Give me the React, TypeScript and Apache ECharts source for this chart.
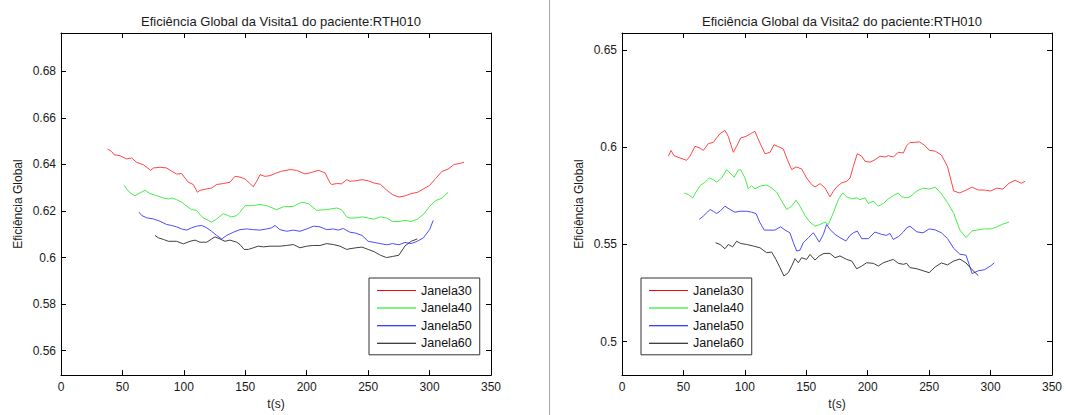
import React, { useEffect, useRef } from "react";
import * as echarts from "echarts";

const FONT = "'Liberation Sans', Arial, Helvetica, sans-serif";

const xTicks = [0, 50, 100, 150, 200, 250, 300, 350];
const leftYTicks = [0.56, 0.58, 0.6, 0.62, 0.64, 0.66, 0.68];
const rightYTicks = [0.5, 0.55, 0.6, 0.65];
const leftYRange = [0.5495, 0.6965];
const rightYRange = [0.4828, 0.6588];

const seriesNames = ["Janela30", "Janela40", "Janela50", "Janela60"];
const lineColors = ["#ff4646", "#46ee46", "#4c4cff", "#404040"];
const legendColors = ["#ff0000", "#00e600", "#0000ff", "#000000"];

const titles = [
  "Eficiência Global da Visita1 do paciente:RTH010",
  "Eficiência Global da Visita2 do paciente:RTH010",
];

// Visita1
const v1Janela30: [number, number][] = [
  [38.0, 0.6466], [41.2, 0.6456], [43.1, 0.6442], [48.0, 0.6438], [53.4, 0.6424], [57.5, 0.6428],
  [61.6, 0.6409], [67.0, 0.6399], [73.0, 0.6375], [75.2, 0.6385], [80.6, 0.6388], [86.0, 0.6385],
  [90.1, 0.6371], [94.1, 0.6359], [98.2, 0.6361], [100.9, 0.6342], [103.6, 0.6324], [107.7, 0.6314],
  [111.0, 0.6281], [113.1, 0.6289], [118.6, 0.6295], [122.6, 0.6299], [126.7, 0.6314], [132.1, 0.6318],
  [137.6, 0.6324], [141.6, 0.6349], [145.7, 0.6346], [149.8, 0.6338], [153.8, 0.6318], [156.5, 0.6304],
  [159.3, 0.6328], [162.0, 0.6356], [166.0, 0.6349], [170.1, 0.6352], [175.5, 0.6364], [179.6, 0.6371],
  [186.4, 0.6378], [191.8, 0.6375], [198.6, 0.6359], [204.0, 0.6366], [209.4, 0.6375], [214.9, 0.6364],
  [219.0, 0.6321], [220.3, 0.6314], [224.4, 0.6318], [228.5, 0.6317], [232.5, 0.6335], [235.2, 0.6328],
  [240, 0.633], [245, 0.6335], [250, 0.633], [255, 0.632], [260, 0.6315], [265, 0.629], [270, 0.627],
  [275, 0.626], [280, 0.6265], [285, 0.6275], [290, 0.628], [295, 0.6295], [300, 0.631], [305, 0.634],
  [310, 0.637], [315, 0.638], [320, 0.640], [325, 0.6405], [328, 0.641],
];
const v1Janela40: [number, number][] = [
  [51.3, 0.6311], [53.4, 0.6295], [56.2, 0.6278], [60.2, 0.6266], [64.3, 0.6278], [68.4, 0.6289],
  [72.4, 0.6275], [77.9, 0.6266], [83.3, 0.6256], [87.4, 0.6252], [90.1, 0.6256], [94.1, 0.6249],
  [98.2, 0.6238], [102.3, 0.6221], [106.3, 0.6206], [110.4, 0.6203], [113.1, 0.6185], [115.8, 0.617],
  [119.9, 0.616], [122.6, 0.6152], [126.7, 0.6166], [132.1, 0.6189], [136.2, 0.618], [138.9, 0.6175],
  [143.0, 0.618], [145.7, 0.6195], [149.8, 0.6223], [155.2, 0.6223], [162.0, 0.6228], [167.4, 0.6223],
  [175.5, 0.6206], [181.0, 0.6218], [189.1, 0.622], [195.9, 0.6238], [201.3, 0.6232], [208.1, 0.6203],
  [216.2, 0.6206], [224.4, 0.6213], [228.4, 0.6206], [232.5, 0.6175], [235.2, 0.617],
  [240, 0.617], [245, 0.6175], [250, 0.617], [255, 0.6165], [260, 0.6175], [265, 0.617], [270, 0.6155],
  [275, 0.6155], [280, 0.616], [285, 0.6155], [290, 0.6165], [295, 0.6185], [300, 0.622], [305, 0.6245],
  [310, 0.6255], [315, 0.628],
];
const v1Janela50: [number, number][] = [
  [63.5, 0.6195], [65.7, 0.6181], [69.7, 0.6171], [75.2, 0.6166], [80.6, 0.6156], [86.0, 0.6142],
  [90.1, 0.6138], [94.1, 0.6132], [98.2, 0.6123], [102.3, 0.6118], [106.3, 0.6128], [110.4, 0.6135],
  [114.5, 0.6138], [118.6, 0.6128], [122.6, 0.6113], [126.7, 0.6095], [130.8, 0.608], [134.8, 0.6095],
  [140.3, 0.6109], [145.7, 0.612], [151.1, 0.6123], [156.5, 0.612], [162.0, 0.6118], [167.4, 0.6123],
  [171.5, 0.6128], [174.2, 0.6138], [178.2, 0.612], [183.7, 0.6113], [189.1, 0.6118], [194.5, 0.6113],
  [200.0, 0.6123], [205.4, 0.6135], [210.8, 0.6132], [216.2, 0.612], [221.7, 0.6123], [225.7, 0.6118],
  [229.8, 0.6125], [235.2, 0.6109],
  [240, 0.6105], [245, 0.6095], [250, 0.607], [255, 0.6065], [260, 0.606], [265, 0.6055], [270, 0.606],
  [275, 0.6055], [280, 0.6065], [285, 0.606], [290, 0.607], [295, 0.6085], [300, 0.612], [303, 0.616],
];
const v1Janela60: [number, number][] = [
  [76.5, 0.6095], [79.2, 0.6085], [83.3, 0.6078], [87.4, 0.607], [94.1, 0.607], [99.6, 0.6059],
  [105.0, 0.607], [109.1, 0.6075], [113.1, 0.6066], [118.6, 0.6066], [122.6, 0.608], [125.3, 0.6089],
  [129.4, 0.608], [133.5, 0.607], [137.5, 0.6075], [143.0, 0.6066], [145.7, 0.6056], [149.0, 0.6035],
  [152.5, 0.6035], [156.5, 0.6042], [160.6, 0.6049], [164.7, 0.6046], [170.1, 0.6049], [178.2, 0.6049],
  [183.7, 0.6052], [189.1, 0.6056], [194.5, 0.6042], [200.0, 0.6049], [205.4, 0.6052], [210.8, 0.6052],
  [216.2, 0.606], [221.7, 0.6056], [227.1, 0.6049], [232.5, 0.6035], [235.2, 0.6038],
  [240, 0.6042], [245, 0.6045], [250, 0.6035], [255, 0.6025], [260, 0.601], [265, 0.6], [270, 0.6005],
  [275, 0.601], [280, 0.605], [285, 0.607], [290, 0.608],
];

// Visita2
const v2Janela30: [number, number][] = [
  [37.7, 0.5954], [39.9, 0.5984], [42.3, 0.5957], [47.2, 0.5945], [52.6, 0.5933], [55.3, 0.5954],
  [59.4, 0.6005], [63.5, 0.5996], [66.2, 0.5984], [70.3, 0.6019], [74.3, 0.6025], [77.0, 0.6048],
  [79.8, 0.607], [83.8, 0.6087], [86.5, 0.6056], [90.6, 0.5974], [93.3, 0.6005], [96.6, 0.6048],
  [100.9, 0.6056], [104.7, 0.607], [108.2, 0.6082], [112.3, 0.6022], [116.4, 0.5967], [120.5, 0.5974],
  [123.7, 0.6013], [128.1, 0.6001], [131.3, 0.5991], [134.6, 0.5936], [138.1, 0.5885], [141.6, 0.5899],
  [146.2, 0.5889], [150.3, 0.5842], [154.4, 0.5808], [157.1, 0.5796], [161.2, 0.5813], [165.2, 0.5791],
  [169.3, 0.5745], [172.0, 0.5774], [174.7, 0.5796], [178.8, 0.5817], [182.9, 0.5825], [185.6, 0.5842],
  [188.3, 0.5902], [191.5, 0.5967], [195.1, 0.5954], [197.8, 0.5928], [201.8, 0.5923], [205.9, 0.5936],
  [210.0, 0.5954], [214.1, 0.595], [216.8, 0.5957], [220.8, 0.595], [224.9, 0.5974], [229.0, 0.5971],
  [231.7, 0.6008], [234.4, 0.6025],
  [238, 0.6025], [242, 0.6028], [246, 0.6012], [250, 0.5985], [255, 0.598], [260, 0.596], [265, 0.59],
  [270, 0.5775], [275, 0.5765], [280, 0.578], [285, 0.5795], [290, 0.578], [295, 0.578], [300, 0.5775],
  [305, 0.579], [310, 0.5785], [315, 0.5815], [320, 0.583], [325, 0.5815], [328, 0.5825],
];
const v2Janela40: [number, number][] = [
  [50.7, 0.5765], [54.0, 0.5757], [57.5, 0.574], [60.2, 0.5769], [63.5, 0.5803], [67.6, 0.582],
  [71.1, 0.5842], [74.3, 0.5834], [77.0, 0.582], [81.1, 0.5842], [85.2, 0.5885], [87.9, 0.5868],
  [91.2, 0.5846], [94.7, 0.5882], [96.6, 0.5885], [100.1, 0.5842], [102.8, 0.5786], [105.5, 0.5803],
  [108.2, 0.5786], [112.3, 0.58], [117.7, 0.5806], [121.8, 0.5791], [125.9, 0.5769], [130.0, 0.5723],
  [134.0, 0.568], [138.1, 0.5697], [141.6, 0.5728], [144.9, 0.5697], [148.9, 0.5649], [153.0, 0.5615],
  [157.1, 0.5594], [161.2, 0.5603], [165.2, 0.5615], [168.0, 0.5603], [172.0, 0.5663], [176.1, 0.5731],
  [179.6, 0.5765], [182.9, 0.5745], [187.0, 0.5735], [191.0, 0.574], [193.7, 0.5731], [197.8, 0.574],
  [200.5, 0.5711], [204.6, 0.5723], [208.6, 0.5697], [212.7, 0.5711], [216.8, 0.5735], [220.8, 0.5752],
  [224.9, 0.5765], [227.6, 0.5745], [231.7, 0.574], [234.4, 0.5745],
  [240, 0.5775], [245, 0.579], [250, 0.5785], [255, 0.5795], [260, 0.576], [265, 0.5715], [270, 0.566],
  [275, 0.5575], [280, 0.5535], [285, 0.557], [290, 0.5575], [295, 0.558], [300, 0.558], [305, 0.559],
  [310, 0.5605], [315, 0.5615],
];
const v2Janela50: [number, number][] = [
  [62.9, 0.5629], [66.2, 0.5646], [69.5, 0.5666], [71.6, 0.568], [74.3, 0.5671], [77.0, 0.5659],
  [79.8, 0.5671], [83.8, 0.5697], [87.9, 0.568], [92.0, 0.5666], [96.0, 0.5671], [101.5, 0.5671],
  [105.5, 0.5666], [109.1, 0.5659], [112.3, 0.5612], [115.8, 0.5574], [120.5, 0.5574], [124.5, 0.5574],
  [129.1, 0.5591], [132.7, 0.5574], [136.7, 0.556], [139.5, 0.5509], [142.2, 0.5466], [144.9, 0.5471],
  [147.6, 0.5509], [151.7, 0.5535], [155.7, 0.556], [158.4, 0.5535], [160.6, 0.5512], [163.9, 0.5552],
  [166.6, 0.5603], [169.3, 0.5577], [173.4, 0.5552], [177.4, 0.5535], [182.3, 0.5518], [185.6, 0.5547],
  [188.3, 0.556], [191.5, 0.5569], [195.1, 0.553], [200.5, 0.553], [205.9, 0.5564], [211.3, 0.5552],
  [215.4, 0.5547], [218.1, 0.5557], [220.8, 0.5526], [224.9, 0.554], [229.0, 0.5564], [231.7, 0.5586],
  [234.4, 0.5594],
  [240, 0.5565], [245, 0.556], [250, 0.558], [255, 0.5575], [260, 0.556], [265, 0.553], [270, 0.548],
  [275, 0.545], [280, 0.5445], [285, 0.535], [290, 0.5365], [295, 0.537], [300, 0.539], [303, 0.5405],
];
const v2Janela60: [number, number][] = [
  [76.2, 0.5509], [79.8, 0.55], [83.8, 0.5478], [86.5, 0.55], [90.1, 0.5488], [93.3, 0.5517],
  [96.6, 0.5505], [101.5, 0.55], [106.9, 0.5492], [112.3, 0.5483], [117.7, 0.5458], [121.8, 0.5461],
  [125.3, 0.5423], [128.6, 0.5381], [131.8, 0.5338], [135.4, 0.5355], [138.1, 0.5389], [140.8, 0.5427],
  [143.5, 0.5406], [146.2, 0.5432], [150.3, 0.5423], [153.0, 0.5449], [157.1, 0.542], [160.6, 0.5441],
  [164.4, 0.5454], [169.3, 0.5454], [173.4, 0.5432], [177.4, 0.5441], [182.9, 0.5423], [187.0, 0.5415],
  [191.0, 0.5375], [195.1, 0.5389], [199.1, 0.5406], [204.6, 0.5403], [208.6, 0.5389], [212.7, 0.5406],
  [216.8, 0.5415], [220.8, 0.5423], [224.9, 0.5403], [229.0, 0.5398], [231.7, 0.5403], [234.4, 0.5381],
  [240, 0.5375], [245, 0.5365], [250, 0.5355], [255, 0.5385], [260, 0.5405], [265, 0.5395], [270, 0.5415],
  [275, 0.5425], [280, 0.5405], [285, 0.537], [290, 0.534],
];

const visita1 = [v1Janela30, v1Janela40, v1Janela50, v1Janela60];
const visita2 = [v2Janela30, v2Janela40, v2Janela50, v2Janela60];

const textBase = { fontFamily: FONT, fontSize: 12, color: "#1a1a1a" };

function buildPanel(
  idx: number,
  gridLeft: number,
  yRange: number[],
  yTicks: number[],
  data: [number, number][][],
  legendLeft: number
) {
  const axisLine = { show: true, onZero: false, lineStyle: { color: "#000", width: 1 } };
  const tick = { show: true, inside: true, length: 5, lineStyle: { color: "#000", width: 1 } };
  const grid = { left: gridLeft, top: 33, width: 430, height: 343, containLabel: false, show: false };
  const xAxes = [
    {
      type: "value", gridIndex: idx, position: "bottom", min: xTicks[0], max: xTicks[xTicks.length - 1],
      interval: 50, axisLine, axisTick: tick, splitLine: { show: false },
      axisLabel: { ...textBase, margin: 6 },
      name: "t(s)", nameLocation: "middle", nameGap: 22, nameTextStyle: { ...textBase },
    },
    {
      type: "value", gridIndex: idx, position: "top", min: xTicks[0], max: xTicks[xTicks.length - 1],
      interval: 50, axisLine, axisTick: tick, splitLine: { show: false }, axisLabel: { show: false },
    },
  ];
  const yAxes = [
    {
      type: "value", gridIndex: idx, position: "left", min: yRange[0], max: yRange[1],
      axisLine, axisTick: { ...tick, customValues: yTicks }, splitLine: { show: false },
      axisLabel: { ...textBase, margin: 5, customValues: yTicks },
      name: "Eficiência Global", nameLocation: "middle", nameRotate: 90, nameGap: 37,
      nameTextStyle: { ...textBase },
    },
    {
      type: "value", gridIndex: idx, position: "right", min: yRange[0], max: yRange[1],
      axisLine, axisTick: { ...tick, customValues: yTicks }, splitLine: { show: false },
      axisLabel: { show: false },
    },
  ];
  const series = data.map((d, i) => ({
    type: "line", name: seriesNames[i], data: d, xAxisIndex: idx * 2, yAxisIndex: idx * 2,
    symbol: "none", showSymbol: false, silent: true,
    lineStyle: { color: lineColors[i], width: 1 }, itemStyle: { color: lineColors[i] },
  }));
  const legend = {
    orient: "vertical", left: legendLeft, top: 278, width: 110,
    padding: [6, 8, 5, 8], itemGap: 4.6, itemWidth: 39, itemHeight: 14,
    backgroundColor: "#fff", borderColor: "#333", borderWidth: 1, borderRadius: 0,
    selectedMode: false,
    textStyle: { ...textBase, fontSize: 12.5, color: "#111" },
    data: seriesNames.map((n, i) => ({
      name: n, icon: "path://M0,0 L40,0 L40,1 L0,1 Z", itemStyle: { color: legendColors[i] },
    })),
  };
  const title = {
    text: titles[idx], left: gridLeft + 215, top: 10, textAlign: "center",
    textStyle: { ...textBase, fontSize: 13, fontWeight: "normal" },
  };
  return { grid, xAxes, yAxes, series, legend, title };
}

export default function App() {
  const ref = useRef<HTMLDivElement>(null);
  useEffect(() => {
    if (!ref.current) return;
    const chart = echarts.init(ref.current, undefined, { renderer: "svg" });
    const p1 = buildPanel(0, 61, leftYRange, leftYTicks, visita1, 369);
    const p2 = buildPanel(1, 622, rightYRange, rightYTicks, visita2, 641);
    chart.setOption({
      animation: false,
      backgroundColor: "#fff",
      title: [p1.title, p2.title],
      grid: [p1.grid, p2.grid],
      xAxis: [...p1.xAxes, ...p2.xAxes],
      yAxis: [...p1.yAxes, ...p2.yAxes],
      legend: [p1.legend, p2.legend],
      series: [...p1.series, ...p2.series],
      graphic: [
        {
          type: "line", shape: { x1: 549.5, y1: 0, x2: 549.5, y2: 415 },
          style: { stroke: "#a8a8a8", lineWidth: 1 }, silent: true,
        },
      ],
    });
    return () => chart.dispose();
  }, []);
  return (
    <div
      ref={ref}
      style={{ position: "fixed", left: 0, top: 0, width: 1068, height: 415, background: "#fff" }}
    />
  );
}
